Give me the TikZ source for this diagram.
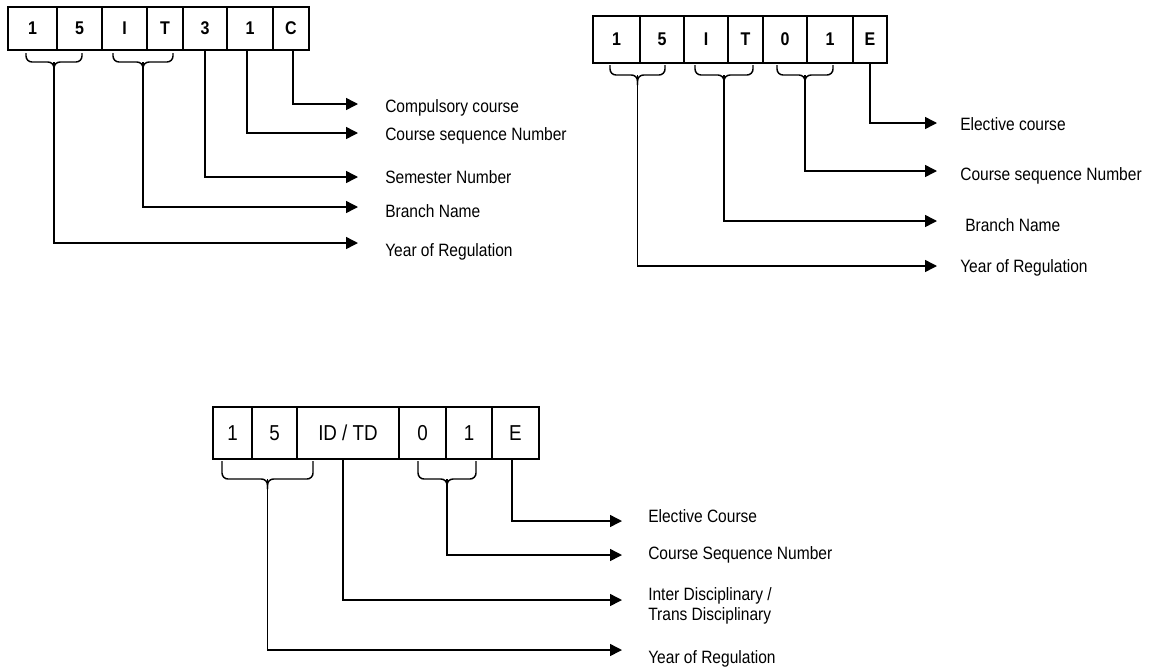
\documentclass[tikz,border=0pt]{standalone}
\usepackage{fontspec}
\setmainfont{Liberation Sans}
\newfontfamily\lab[FakeStretch=0.87]{Liberation Sans}
\usetikzlibrary{arrows.meta}
\newcommand\mkcell[7]{\node[#6, minimum width={(#3-#2)*0.75pt}, minimum height={(#5-#4)*0.75pt}] (#1) at ({(#2+#3)/2},{(#4+#5)/2}) {#7};}
\newcommand\mkbrace[5]{%
  \coordinate (#1) at ({(#2+#3)/2},#5);
  \draw[bracepath] (#2,#4) -- (#2,#5) -- (#1) -- ++(0,10);
  \draw[bracepath] (#3,#4) -- (#3,#5) -- (#1) -- ++(0,10);}
\begin{document}
\begin{tikzpicture}[x=0.75pt,y=-0.75pt,
  cell/.style={draw, line width=0.8pt, inner sep=0pt, outer sep=0pt, font=\lab\fontsize{13.8}{16}\selectfont\bfseries},
  cellb/.style={cell, font=\lab\fontsize{16.2}{19}\selectfont},
  conn/.style={line width=1.1pt, -{Triangle[length=9pt,width=9pt]}},
  bracepath/.style={line width=1.1pt, rounded corners=4.5pt},
  lbl/.style={anchor=west, inner sep=0pt, font=\lab\fontsize{13.4}{15}\selectfont, align=left}]
\useasboundingbox (0,0) rectangle (1152,668);
% ---------- top left ----------
\mkcell{a1}{8}{57}{7}{50}{cell}{1}
\mkcell{a2}{57}{102}{7}{50}{cell}{5}
\mkcell{a3}{102}{147}{7}{50}{cell}{I}
\mkcell{a4}{147}{183}{7}{50}{cell}{T}
\mkcell{a5}{183}{227}{7}{50}{cell}{3}
\mkcell{a6}{227}{273}{7}{50}{cell}{1}
\mkcell{a7}{273}{309}{7}{50}{cell}{C}
\mkbrace{ab1}{26}{82}{53}{62}
\mkbrace{ab2}{113}{173}{53}{62}
\coordinate (at1) at (358,104);
\coordinate (at2) at (358,133);
\coordinate (at3) at (358,177);
\coordinate (at4) at (358,207);
\coordinate (at5) at (358,243);
\node[lbl] (al1) at (385,108) {Compulsory course};
\node[lbl] (al2) at (385,136) {Course sequence Number};
\node[lbl] (al3) at (385,177) {Semester Number};
\node[lbl] (al4) at (385,211) {Branch Name};
\node[lbl] (al5) at (385,252) {Year of Regulation};
\draw[conn] ([xshift=1.5pt]a7.south) |- (at1);
\draw[conn] ([xshift=-2.2pt]a6.south) |- (at2);
\draw[conn] (a5.south) |- (at3);
\draw[conn] (ab2) |- (at4);
\draw[conn] (ab1) |- (at5);
% ---------- top right ----------
\mkcell{b1}{593}{640}{16}{63}{cell}{1}
\mkcell{b2}{640}{684}{16}{63}{cell}{5}
\mkcell{b3}{684}{728}{16}{63}{cell}{I}
\mkcell{b4}{728}{763}{16}{63}{cell}{T}
\mkcell{b5}{763}{807}{16}{63}{cell}{0}
\mkcell{b6}{807}{853}{16}{63}{cell}{1}
\mkcell{b7}{853}{887}{16}{63}{cell}{E}
\mkbrace{bb1}{610}{665}{65}{75}
\mkbrace{bb2}{695}{753}{65}{75}
\mkbrace{bb3}{777}{833}{65}{75}
\coordinate (bt1) at (937,123);
\coordinate (bt2) at (937,171);
\coordinate (bt3) at (937,221);
\coordinate (bt4) at (937,266);
\node[lbl] (bl1) at (960,124) {Elective course};
\node[lbl] (bl2) at (960,176) {Course sequence Number};
\node[lbl] (bl3) at (965,225) {Branch Name};
\node[lbl] (bl4) at (960,268) {Year of Regulation};
\draw[conn] (b7.south) |- (bt1);
\draw[conn] (bb3) |- (bt2);
\draw[conn] (bb2) |- (bt3);
\draw[conn] (bb1) |- (bt4);
% ---------- bottom ----------
\mkcell{c1}{213}{252}{407}{459}{cellb}{1}
\mkcell{c2}{252}{297}{407}{459}{cellb}{5}
\mkcell{c3}{297}{399}{407}{459}{cellb}{ID / TD}
\mkcell{c4}{399}{446}{407}{459}{cellb}{0}
\mkcell{c5}{446}{492}{407}{459}{cellb}{1}
\mkcell{c6}{492}{539}{407}{459}{cellb}{E}
\mkbrace{cb1}{222}{313}{461}{479}
\mkbrace{cb2}{418}{476}{461}{479}
\coordinate (ct1) at (622,521);
\coordinate (ct2) at (622,555);
\coordinate (ct3) at (622,600);
\coordinate (ct4) at (622,650);
\node[lbl] (cl1) at (648,516) {Elective Course};
\node[lbl] (cl2) at (648,555) {Course Sequence Number};
\node[lbl] (cl3) at (648,606) {Inter Disciplinary /\\Trans Disciplinary};
\node[lbl] (cl4) at (648,659) {Year of Regulation};
\draw[conn] ([xshift=-2.6pt]c6.south) |- (ct1);
\draw[conn] (cb2) |- (ct2);
\draw[conn] ([xshift=-3.75pt]c3.south) |- (ct3);
\draw[conn] (cb1) |- (ct4);
\end{tikzpicture}
\end{document}
